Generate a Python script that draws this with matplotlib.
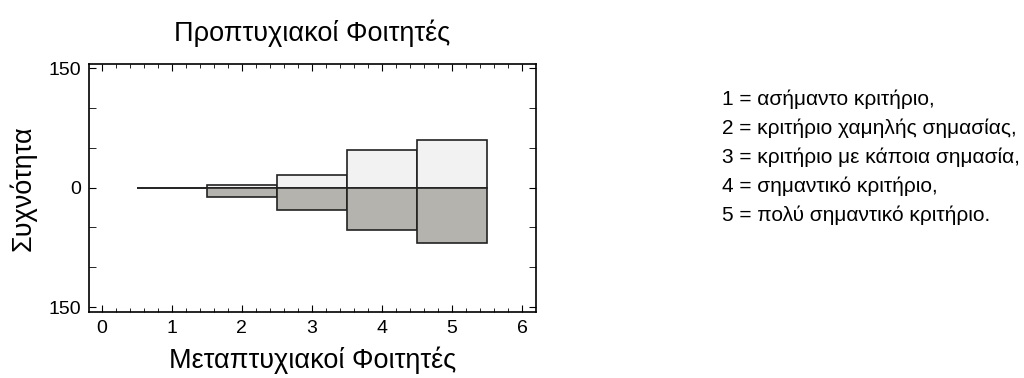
import numpy as np
import matplotlib.pyplot as plt
from matplotlib.ticker import MultipleLocator, FuncFormatter

plt.rcParams['font.family'] = ['Liberation Sans', 'DejaVu Sans']

# Κατηγορίες κριτηρίου και συχνότητες
kritiria = [1, 2, 3, 4, 5]
proptyxiakoi = [0, 3, 16, 47, 60]
metaptyxiakoi = [0, 12, 28, 53, 69]

legend_lines = [
    '1 = ασήμαντο κριτήριο,',
    '2 = κριτήριο χαμηλής σημασίας,',
    '3 = κριτήριο με κάποια σημασία,',
    '4 = σημαντικό κριτήριο,',
    '5 = πολύ σημαντικό κριτήριο.',
]

fig = plt.figure(figsize=(10.24, 3.78), dpi=100)
ax = fig.add_axes([0.087, 0.175, 0.436, 0.655])

ax.bar(kritiria, proptyxiakoi, width=1.0, color='#f2f2f2', edgecolor='#222222', linewidth=1.2)
ax.bar(kritiria, [-v for v in metaptyxiakoi], width=1.0, color='#b4b3ae', edgecolor='#222222', linewidth=1.2)

ax.set_xlim(-0.18, 6.19)
ax.set_ylim(-156, 155)
ax.xaxis.set_major_locator(MultipleLocator(1))
ax.xaxis.set_minor_locator(MultipleLocator(0.2))
ax.set_yticks([-150, 0, 150])
ax.set_yticks([-100, -50, 50, 100], minor=True)
ax.yaxis.set_major_formatter(FuncFormatter(lambda v, p: '%d' % abs(v)))
ax.tick_params(which='both', direction='in', top=True, right=True, labelsize=14)
ax.tick_params(which='major', length=5, pad=6)
ax.tick_params(which='minor', length=3)
ax.tick_params(axis='y', which='minor', length=5)
for s in ax.spines.values():
    s.set_linewidth(1.2)

ax.set_title('Προπτυχιακοί Φοιτητές', fontsize=19.5, pad=17)
ax.set_xlabel('Μεταπτυχιακοί Φοιτητές', fontsize=19.5, labelpad=7)
ax.set_ylabel('Συχνότητα', fontsize=19.5, labelpad=8)

for i, t in enumerate(legend_lines):
    fig.text(0.705, 1 - (99 + i * 29) / 378, t, fontsize=15, va='center', ha='left')

fig.savefig('out.png', dpi=100)
